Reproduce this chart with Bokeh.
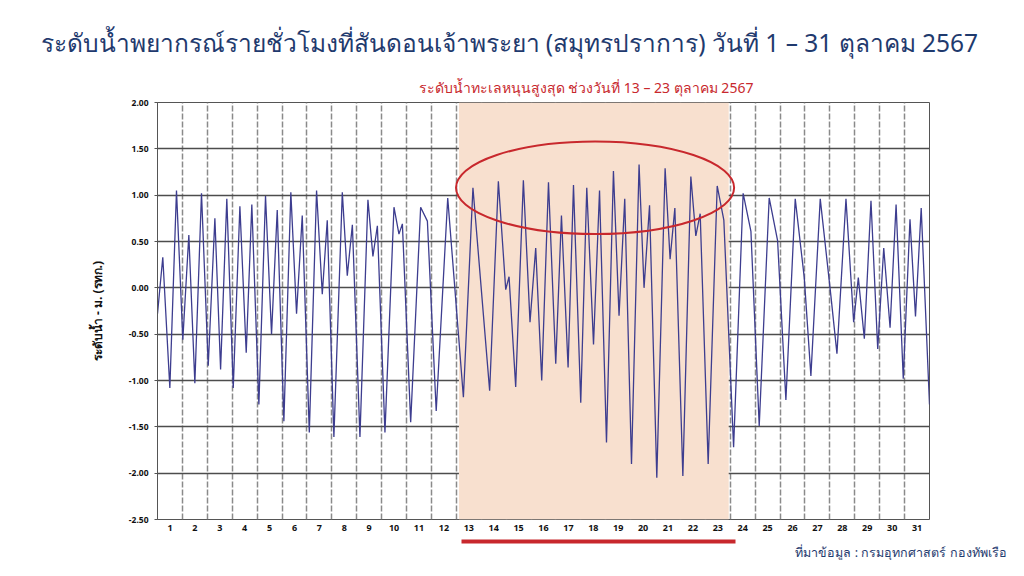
from bokeh.plotting import figure
from bokeh.models import (Range1d, FixedTicker, BoxAnnotation, LinearAxis, Title)
from bokeh.embed import file_html
from bokeh.resources import INLINE

# ---------------- data ----------------
# turning points of the hourly forecast: hours since 1 Oct 00:00 and level (m, MSL)
hours = [0, 5.1, 11.9, 18.3, 24.4, 30.2, 36.0, 42.4, 48.9, 55.3, 60.8, 66.8, 73.0,
         79.4, 85.5, 90.9, 97.7, 104.1, 109.9, 115.4, 121.8, 128.5, 134.0, 139.5,
         146.3, 153.3, 158.8, 163.6, 170.0, 178.1, 182.9, 187.8, 195.1, 202.8,
         207.6, 211.9, 219.2, 227.9, 232.7, 236.0, 244.0, 253.6, 260.1, 268.6,
         279.7, 294.8, 304.0, 320.1, 328.5, 335.6, 338.8, 345.2, 352.6, 359.0,
         364.5, 370.3, 376.8, 383.8, 389.3, 395.7, 400.9, 407.9, 413.7, 420.2,
         426.0, 432.7, 439.4, 444.8, 450.3, 456.8, 464.1, 468.9, 474.2, 481.2,
         489.2, 494.0, 498.6, 506.3, 514.0, 518.8, 523.0, 530.7, 539.4, 545.8,
         555.2, 564.4, 571.9, 579.9, 589.5, 597.6, 605.6, 614.6, 623.3, 629.7,
         638.7, 649.0, 654.8, 663.5, 670.9, 675.4, 681.2, 687.6, 694.1, 699.9,
         706.0, 711.8, 718.7, 725.2, 730.5, 736.0, 744]
levels = [-0.28, 0.33, -1.08, 1.05, -0.56, 0.57, -1.03, 1.02, -0.84, 0.75, -0.88, 0.96, -1.08,
          0.88, -0.70, 0.90, -1.26, 0.99, -0.50, 0.84, -1.44, 1.03, -0.28, 0.78,
          -1.56, 1.05, -0.07, 0.73, -1.61, 1.03, 0.13, 0.68, -1.61, 0.95,
          0.34, 0.67, -1.56, 0.87, 0.58, 0.69, -1.45, 0.87, 0.72, -1.33,
          0.97, -1.18, 1.08, -1.11, 1.15, -0.02, 0.12, -1.07, 1.16, -0.37,
          0.43, -1.00, 1.14, -0.82, 0.78, -0.86, 1.11, -1.24, 1.08, -0.61,
          1.05, -1.67, 1.26, -0.30, 0.96, -1.90, 1.33, 0.00, 0.89, -2.05,
          1.29, 0.31, 0.86, -2.03, 1.20, 0.56, 0.80, -1.90, 1.10, 0.73,
          -1.72, 1.02, 0.61, -1.49, 0.97, 0.51, -1.21, 0.96, 0.11, -0.95,
          0.96, -0.09, -0.71, 0.96, -0.37, 0.11, -0.55, 0.94, -0.66, 0.43,
          -0.43, 0.90, -0.98, 0.74, -0.31, 0.86, -1.26]

days = list(range(1, 32))
y_ticks = [-2.5, -2.0, -1.5, -1.0, -0.5, 0.0, 0.5, 1.0, 1.5, 2.0]
highlight_days = (13, 23)

title_text = "ระดับน้ำพยากรณ์รายชั่วโมงที่สันดอนเจ้าพระยา (สมุทรปราการ)  วันที่ 1 – 31 ตุลาคม 2567"
sub_text = "ระดับน้ำทะเลหนุนสูงสุด ช่วงวันที่ 13 – 23 ตุลาคม 2567"
source_text = "ที่มาข้อมูล : กรมอุทกศาสตร์ กองทัพเรือ"
ylabel_text = "ระดับน้ำ - ม. (รทก.)"

FONT = "Noto Sans"
NAVY = "#1f3a6e"
RED = "#c8282d"

p = figure(width=1008, height=560, output_backend="svg", toolbar_location=None,
           x_range=Range1d(0, 24 * len(days)), y_range=Range1d(y_ticks[0], y_ticks[-1]),
           min_border_left=157, min_border_right=79, min_border_top=102, min_border_bottom=41)
p.background_fill_color = "white"
p.border_fill_color = "white"
p.outline_line_color = "#555555"
p.outline_line_width = 1

# titles: later titles sit nearer the frame
p.title.text = title_text
p.title.align = "left"
p.title.offset = -117
p.title.text_font = FONT
p.title.text_font_size = "24.5px"
p.title.text_font_style = "normal"
p.title.text_color = NAVY
p.title.standoff = 21
p.add_layout(Title(text=sub_text, align="left", offset=261, text_font=FONT,
                   text_font_size="14px", text_font_style="normal", text_color=RED,
                   standoff=12), "above")

# highlighted period
hs, he = highlight_days
p.add_layout(BoxAnnotation(left=(hs - 1) * 24 + 2.5, right=he * 24 - 1.5,
                           fill_color="#f8e0cf", fill_alpha=1.0, line_color=None, level="underlay"))

# grids
p.xgrid.ticker = FixedTicker(ticks=[24 * d for d in range(0, len(days) + 1)])
p.xgrid.grid_line_color = "#8a8a8a"
p.xgrid.grid_line_width = 1.5
p.xgrid.grid_line_dash = "6 2"
p.ygrid.ticker = FixedTicker(ticks=y_ticks)
p.ygrid.grid_line_color = "#4d4d4d"
p.ygrid.grid_line_width = 1.3

# axes
centers = [24 * d - 12 for d in days]
xax = p.xaxis[0]
xax.ticker = FixedTicker(ticks=centers)
xax.major_label_overrides = {c: str(d) for c, d in zip(centers, days)}
xax.major_tick_line_color = None
xax.major_tick_out = 0
xax.major_tick_in = 0
xax.minor_tick_line_color = None
xax.axis_line_color = None
xax.major_label_standoff = 5
xax.major_label_text_font = FONT
xax.major_label_text_font_size = "9px"
xax.major_label_text_font_style = "bold"
xax.major_label_text_color = "#111111"
xax.axis_label = " "
xax.axis_label_text_font_size = "4px"
xax.axis_label_standoff = 0

yax = p.yaxis[0]
yax.ticker = FixedTicker(ticks=y_ticks)
yax.major_label_overrides = {t: f"{t:.2f}" for t in y_ticks}
yax.axis_line_color = "#555555"
yax.major_tick_line_color = "#555555"
yax.major_tick_out = 3
yax.major_tick_in = 0
yax.minor_tick_line_color = None
yax.major_label_standoff = 6
yax.major_label_text_font = FONT
yax.major_label_text_font_size = "8.5px"
yax.major_label_text_font_style = "bold"
yax.major_label_text_color = "#111111"
yax.axis_label = ylabel_text
yax.axis_label_text_font = FONT
yax.axis_label_text_font_size = "12px"
yax.axis_label_text_font_style = "bold"
yax.axis_label_text_color = "#111111"
yax.axis_label_standoff = 20

# red underline for the highlighted days (an extra axis limited to the period)
under = LinearAxis(ticker=FixedTicker(ticks=[]), bounds=((hs - 1) * 24 + 5, he * 24 + 5),
                   axis_line_color=RED, axis_line_width=4, major_tick_line_color=None,
                   minor_tick_line_color=None, major_tick_out=0, major_tick_in=0,
                   major_label_text_font_size="0px")
p.add_layout(under, "below")

# source note
p.add_layout(Title(text=source_text, align="right", offset=-77, text_font=FONT,
                   text_font_size="12.5px", text_font_style="normal", text_color=NAVY,
                   standoff=0), "below")

# the forecast curve
p.line(hours, levels, line_color="#3d3d8f", line_width=1.3)

# red ellipse around the highest tides
p.ellipse(x=[421.7], y=[1.08], width=[268], height=[1.0], fill_color=None,
          line_color=RED, line_width=2)

open("out.html", "w").write(file_html(p, INLINE))
